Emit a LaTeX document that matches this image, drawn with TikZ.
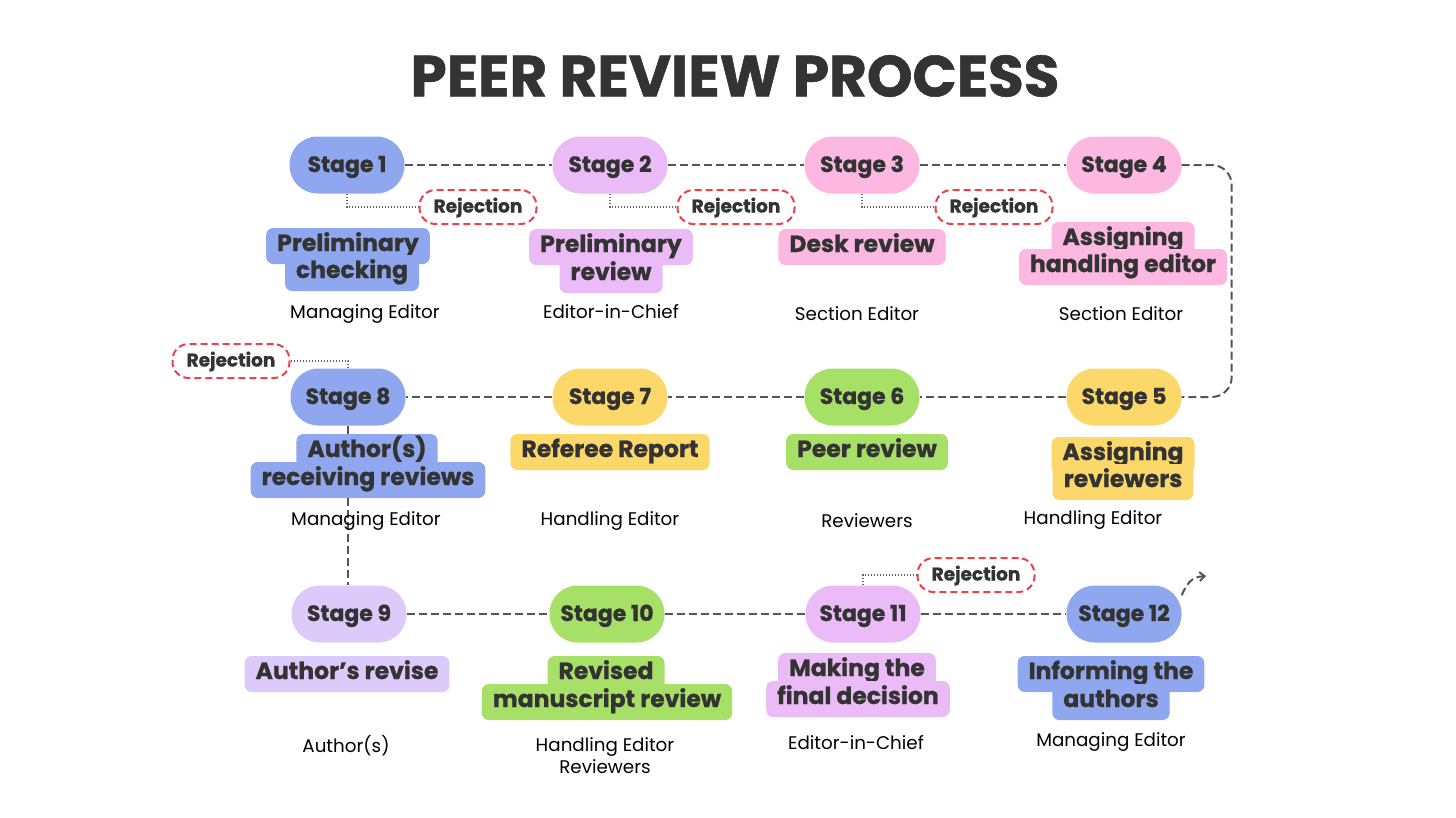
\documentclass[tikz,border=0pt]{standalone}
\usepackage{fontspec}
\setmainfont{Poppins}[BoldFeatures={FakeBold=1}]
\usetikzlibrary{arrows.meta}
\definecolor{ink}{HTML}{333333}
\definecolor{cblue}{HTML}{8FA7EE}
\definecolor{clilac}{HTML}{EABBF7}
\definecolor{clav}{HTML}{DCCBFA}
\definecolor{cpink}{HTML}{FCB8E1}
\definecolor{cyellow}{HTML}{FCD86B}
\definecolor{cgreen}{HTML}{A7E067}
\definecolor{cred}{HTML}{E8434A}
\definecolor{cline}{HTML}{555555}
\begin{document}
\begin{tikzpicture}[x=1pt,y=-1pt,
  stagebox/.style={rounded corners=28pt, minimum width=115pt, minimum height=57pt, inner sep=0pt,
    text height=16pt, text depth=2pt,
    font=\fontsize{22}{26}\selectfont\bfseries, text=ink},
  desc/.style={rounded corners=7pt, inner xsep=11pt, inner ysep=0pt, minimum height=36pt,
    text height=16pt, text depth=6pt, font=\fontsize{23.5}{27}\selectfont\bfseries, text=ink},
  role/.style={font=\fontsize{18.3}{24}\selectfont, text=black, align=center, inner sep=0pt},
  reject/.style={draw=cred, line width=2pt, dash pattern=on 7pt off 4pt, rounded corners=16pt,
    minimum width=117pt, minimum height=34pt, inner sep=0pt, fill=white,
    text height=13pt, text depth=2pt,
    font=\fontsize{18.5}{22}\selectfont\bfseries, text=ink},
  conn/.style={draw=cline, line width=2pt, dash pattern=on 8pt off 4pt},
  dotl/.style={draw=cline!90, line width=1.4pt, dash pattern=on 1.4pt off 1.6pt},
]
\useasboundingbox (0,0) rectangle (1456,817);

% title
\node[font=\fontsize{58}{66}\selectfont\bfseries, text=ink] (title) at (735,76) {PEER REVIEW PROCESS};

% stages
\node[stagebox, fill=cblue]   (s1) at (347,165) {Stage 1};
\node[stagebox, fill=clilac]  (s2) at (610,165) {Stage 2};
\node[stagebox, fill=cpink]   (s3) at (862,165) {Stage 3};
\node[stagebox, fill=cpink]   (s4) at (1124,165) {Stage 4};
\node[stagebox, fill=cyellow] (s5) at (1124,397) {Stage 5};
\node[stagebox, fill=cgreen]  (s6) at (862,397) {Stage 6};
\node[stagebox, fill=cyellow] (s7) at (610,397) {Stage 7};
\node[stagebox, fill=cblue]   (s8) at (348,397) {Stage 8};
\node[stagebox, fill=clav]    (s9) at (349,614) {Stage 9};
\node[stagebox, fill=cgreen]  (s10) at (607,614) {Stage 10};
\node[stagebox, fill=clilac]  (s11) at (863,614) {Stage 11};
\node[stagebox, fill=cblue]   (s12) at (1124,614) {Stage 12};
\coordinate (end12) at (1206,576);

% rejections
\node[reject] (r1) at (478,207) {Rejection};
\node[reject] (r2) at (736,207) {Rejection};
\node[reject] (r3) at (994,207) {Rejection};
\node[reject] (r8) at (231,361) {Rejection};
\node[reject] (r11) at (976,575) {Rejection};

% connectors (behind labels)
\draw[conn] (s1) -- (s2);
\draw[conn] (s2) -- (s3);
\draw[conn] (s3) -- (s4);
\draw[conn, rounded corners=20pt] (s4.east) -- ++(50,0) |- (s5.east);
\draw[conn] (s5) -- (s6);
\draw[conn] (s6) -- (s7);
\draw[conn] (s7) -- (s8);
\draw[conn] (s8.south) -- (s8.south |- s9.north);
\draw[conn] (s9) -- (s10);
\draw[conn] (s10) -- (s11);
\draw[conn] (s11) -- (s12);
\draw[conn, -{Straight Barb[length=5pt,width=9pt]}] (s12.18) .. controls +(7,-16) and +(-12,1) .. (end12);

\draw[dotl] (s1.south) |- (r1.west);
\draw[dotl] (s2.south) |- (r2.west);
\draw[dotl] (s3.south) |- (r3.west);
\draw[dotl] (r8.east) -| (s8.north);
\draw[dotl] (s11.north) |- (r11.west);

% descriptions
\node[desc, fill=cblue] (d1a) at (348,246) {Preliminary};
\node[desc, fill=cblue] (d1b) at (352,273) {checking};
\node[desc, fill=clilac] (d2a) at (611,247) {Preliminary};
\node[desc, fill=clilac] (d2b) at (611,275) {review};
\node[desc, fill=cpink] (d3) at (862,247) {Desk review};
\node[desc, fill=cpink] (d4a) at (1123,240) {Assigning};
\node[desc, fill=cpink] (d4b) at (1123,267) {handling editor};
\node[desc, fill=cyellow] (d5a) at (1123,455) {Assigning};
\node[desc, fill=cyellow] (d5b) at (1123,482) {reviewers};
\node[desc, fill=cgreen] (d6) at (867,452) {Peer review};
\node[desc, fill=cyellow] (d7) at (610,452) {Referee Report};
\node[desc, fill=cblue] (d8a) at (367,452) {Author(s)};
\node[desc, fill=cblue] (d8b) at (368,480) {receiving reviews};
\node[desc, fill=clav] (d9) at (347,674) {Author’s revise};
\node[desc, fill=cgreen] (d10a) at (606,674) {Revised};
\node[desc, fill=cgreen] (d10b) at (607,702) {manuscript review};
\node[desc, fill=clilac] (d11a) at (857,671) {Making the};
\node[desc, fill=clilac] (d11b) at (858,699) {final decision};
\node[desc, fill=cblue] (d12a) at (1111,674) {Informing the};
\node[desc, fill=cblue] (d12b) at (1111,702) {authors};

% roles
\node[role] (p1) at (365,314) {Managing Editor};
\node[role] (p2) at (611,312) {Editor-in-Chief};
\node[role] (p3) at (857,314) {Section Editor};
\node[role] (p4) at (1121,314) {Section Editor};
\node[role] (p8) at (366,521) {Managing Editor};
\node[role] (p7) at (610,521) {Handling Editor};
\node[role] (p6) at (867,521) {Reviewers};
\node[role] (p5) at (1093,520) {Handling Editor};
\node[role] (p9) at (346,746) {Author(s)};
\node[role, align=center] (p10) at (605,756) {Handling Editor\\[-2pt]Reviewers};
\node[role] (p11) at (856,743) {Editor-in-Chief};
\node[role] (p12) at (1111,742) {Managing Editor};
\end{tikzpicture}
\end{document}
